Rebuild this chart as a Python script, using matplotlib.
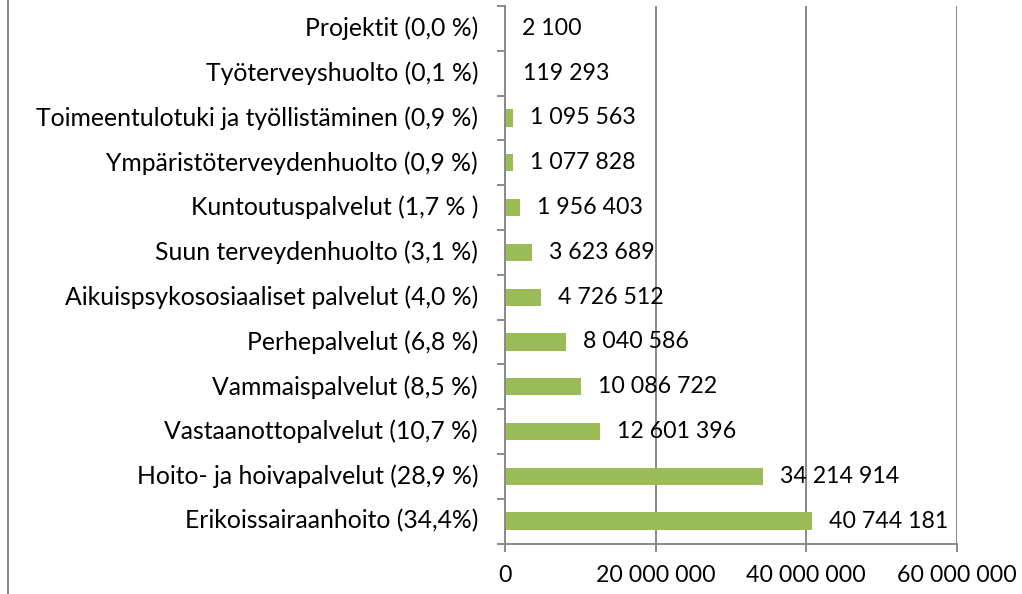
import matplotlib
matplotlib.use("Agg")
import matplotlib.pyplot as plt
from matplotlib.lines import Line2D
from matplotlib.ticker import FuncFormatter
from matplotlib.transforms import offset_copy

categories = [
    "Erikoissairaanhoito (34,4%)",
    "Hoito- ja hoivapalvelut (28,9 %)",
    "Vastaanottopalvelut (10,7 %)",
    "Vammaispalvelut (8,5 %)",
    "Perhepalvelut (6,8 %)",
    "Aikuispsykososiaaliset palvelut (4,0 %)",
    "Suun terveydenhuolto (3,1 %)",
    "Kuntoutuspalvelut (1,7 % )",
    "Ympäristöterveydenhuolto (0,9 %)",
    "Toimeentulotuki ja työllistäminen (0,9 %)",
    "Työterveyshuolto (0,1 %)",
    "Projektit (0,0 %)",
]
values = [40744181, 34214914, 12601396, 10086722, 8040586, 4726512,
          3623689, 1956403, 1077828, 1095563, 119293, 2100]
xticks = [0, 20000000, 40000000, 60000000]

plt.rcParams['font.family'] = ['Lato', 'DejaVu Sans']
FS_CAT = 17.8
FS_NUM = 16.7
GRAY = "#898989"
LW = 1.4

def fmt(v):
    return f"{int(v):,}".replace(",", " ")

fig = plt.figure(figsize=(10.22, 5.94), dpi=100)
x0, x1, ytop, ybot = 505, 957, 6, 543.5
ax = fig.add_axes([x0/1022, 1-ybot/594, (x1-x0)/1022, (ybot-ytop)/594])

ypos = list(range(len(categories)))
ax.barh(ypos, values, height=0.385, color="#9BBB59", zorder=3)
ax.set_ylim(-0.5, len(categories)-0.5)
ax.set_xlim(0, 60000000)
ax.set_xticks(xticks)
ax.xaxis.set_major_formatter(FuncFormatter(lambda v, p: fmt(v)))
ax.set_yticks([y - 0.5 for y in ypos] + [len(categories)-0.5])
ax.set_yticklabels([])

cat_tr = offset_copy(ax.transData, fig=fig, x=-27*0.72, y=0, units='points')
for y, c in zip(ypos, categories):
    ax.text(0, y, c, ha="right", va="center", fontsize=FS_CAT,
            transform=cat_tr, color="black")
val_tr = offset_copy(ax.transData, fig=fig, x=17*0.72, y=0, units='points')
for y, v in zip(ypos, values):
    ax.text(v, y, fmt(v), ha="left", va="center", fontsize=FS_NUM,
            transform=val_tr, zorder=4, color="black")

ax.grid(axis="x", color=GRAY, linewidth=LW, zorder=0)
for s in ["top", "right"]:
    ax.spines[s].set_visible(False)
for s in ["left", "bottom"]:
    ax.spines[s].set_color(GRAY)
    ax.spines[s].set_linewidth(LW)
    ax.spines[s].set_zorder(5)
ax.tick_params(axis="y", length=8*0.72, color=GRAY, width=LW)
ax.tick_params(axis="x", length=8*0.72, color=GRAY, width=LW,
               labelsize=FS_NUM, pad=10)

fig.add_artist(Line2D([8/1022, 8/1022], [0, 1], color=GRAY, linewidth=LW,
                      transform=fig.transFigure))
fig.savefig("out.png", dpi=100)
